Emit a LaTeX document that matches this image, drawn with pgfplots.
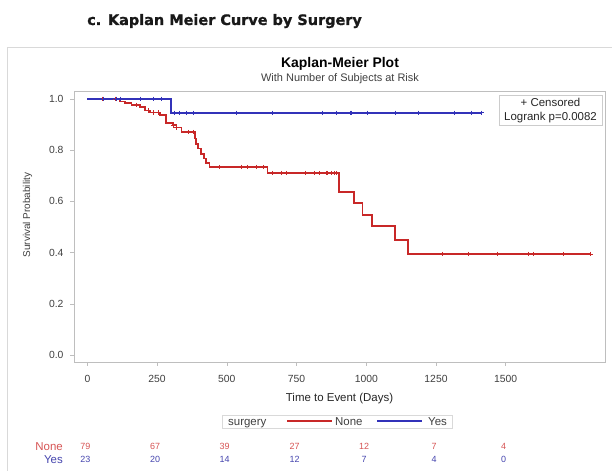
\documentclass[border=0pt]{standalone}
\usepackage{fontspec}
\setmainfont{Liberation Sans}
\newfontfamily\dejavu{DejaVu Sans}[BoldFeatures={FakeBold=1}]
\usepackage{pgfplots}
\pgfplotsset{compat=1.18}
\definecolor{kmred}{RGB}{200,40,40}
\definecolor{kmblue}{RGB}{50,50,185}
\definecolor{rred}{RGB}{215,85,85}
\definecolor{rblue}{RGB}{70,70,175}
\definecolor{framegray}{RGB}{190,190,190}
\begin{document}
\begin{tikzpicture}[x=1bp,y=1bp]
\useasboundingbox (0,0) rectangle (612,471);
\fill[white] (0,0) rectangle (612,471);
\draw[black!15] (7,0) -- (7,424) -- (612,424);
\node[anchor=base west, font=\dejavu\bfseries\fontsize{14.5}{17}\selectfont, text=black!90, inner sep=0] at (87,446) {c. Kaplan Meier Curve by Surgery};
\node[font=\bfseries\fontsize{14}{16}\selectfont, anchor=base, inner sep=0] at (340,403) {Kaplan-Meier Plot};
\node[font=\fontsize{11}{13}\selectfont, anchor=base, text=black!75, inner sep=0] at (340,389.5) {With Number of Subjects at Risk};
% bottom legend
\draw[black!15] (222,43) rectangle (452,56);
\draw[kmred, line width=2bp] (287,49.5) -- (332,49.5);
\draw[kmblue, line width=2bp] (377,49.5) -- (422,49.5);
\node[anchor=base west, font=\fontsize{11.5}{13}\selectfont, text=black!75, inner sep=0] at (228,45.3) {surgery};
\node[anchor=base west, font=\fontsize{11.5}{13}\selectfont, text=black!75, inner sep=0] at (335,45.3) {None};
\node[anchor=base west, font=\fontsize{11.5}{13}\selectfont, text=black!75, inner sep=0] at (428,45.3) {Yes};
\begin{axis}[at={(74bp,109bp)}, anchor=south west, scale only axis,
  width=531bp, height=271bp,
  xmin=-48, xmax=1856, ymin=-0.027, ymax=1.031,
  axis line style={framegray}, tick style={framegray, line width=0.6bp},
  tick align=outside, major tick length=4bp,
  xtick={0,250,500,750,1000,1250,1500},
  ytick={0,0.2,0.4,0.6,0.8,1.0},
  yticklabel style={/pgf/number format/fixed, /pgf/number format/precision=1, /pgf/number format/fixed zerofill, xshift=-3bp},
  xticklabel style={yshift=-6bp, /pgf/number format/1000 sep={}},
  ticklabel style={font=\fontsize{10.4}{12}\selectfont, text=black!75},
  /pgf/number format/assume math mode=true,
  xtick pos=bottom, ytick pos=left, clip=false,
  xlabel={Time to Event (Days)}, ylabel={Survival Probability},
  xlabel style={at={(axis description cs:0.5,-0.135)}, anchor=center, font=\fontsize{11.5}{13}\selectfont, text=black!85},
  ylabel style={at={(axis description cs:-0.0876,0.5424)}, anchor=center, font=\fontsize{10}{12}\selectfont, text=black!75},
]
% None (red)
\addplot[kmred, line width=1.7bp, const plot] coordinates {
(0,1.0) (117,0.990) (135,0.984) (158,0.977) (188,0.968) (206,0.955) (224,0.947)
(260,0.936) (283,0.907) (307,0.897) (319,0.888) (337,0.871) (385,0.845) (390,0.825)
(396,0.806) (408,0.786) (417,0.767) (426,0.750) (438,0.734) (646,0.711) (903,0.637)
(956,0.594) (986,0.548) (1021,0.503) (1103,0.448) (1150,0.394) (1806,0.394)};
\addplot[kmred, only marks, mark=+, mark size=2.2bp, line width=0.6bp] coordinates {
(55,1.0) (99,1.0) (176,0.977) (218,0.955) (236,0.947) (254,0.947) (307,0.897) (319,0.888)
(361,0.871) (379,0.871) (474,0.734) (551,0.734) (575,0.734) (605,0.734) (629,0.734)
(664,0.711) (694,0.711) (712,0.711) (783,0.711) (813,0.711) (831,0.711) (855,0.711)
(861,0.711) (873,0.711) (885,0.711) (891,0.711)
(1271,0.394) (1367,0.394) (1468,0.394) (1581,0.394) (1599,0.394) (1708,0.394) (1805,0.394)};
% Yes (blue)
\addplot[kmblue, line width=1.7bp, const plot] coordinates {
(0,1.0) (301,0.946) (1414,0.946)};
\addplot[kmblue, only marks, mark=+, mark size=2.2bp, line width=0.6bp] coordinates {
(57,1.0) (105,1.0) (117,1.0) (188,1.0) (236,1.0) (266,1.0)
(313,0.946) (331,0.946) (355,0.946) (379,0.946) (533,0.946) (664,0.946) (843,0.946)
(891,0.946) (941,0.946) (948,0.946) (1004,0.946) (1105,0.946) (1185,0.946) (1317,0.946)
(1375,0.946) (1414,0.946)};
\end{axis}
% inset legend
\node[draw=black!20, fill=white, align=center, font=\fontsize{11.5}{14}\selectfont, text=black!85, inner sep=2.5bp, minimum width=103bp] at (550.5,360.5) {+ Censored\\Logrank p=0.0082};
% risk table
\node[anchor=base east, font=\fontsize{11.5}{13}\selectfont, text=rred, inner sep=0] at (63,20) {None};
\node[anchor=base east, font=\fontsize{11.5}{13}\selectfont, text=rblue, inner sep=0] at (63,7) {Yes};
\foreach \xx/\nn/\yy in {85.3/79/23, 155/67/20, 224.7/39/14, 294.5/27/12, 364.2/12/7, 434/7/4, 503.7/4/0}{
  \node[anchor=base, font=\fontsize{9}{10}\selectfont, text=rred, inner sep=0] at (\xx,21) {\nn};
  \node[anchor=base, font=\fontsize{9}{10}\selectfont, text=rblue, inner sep=0] at (\xx,8) {\yy};
}
\end{tikzpicture}
\end{document}
